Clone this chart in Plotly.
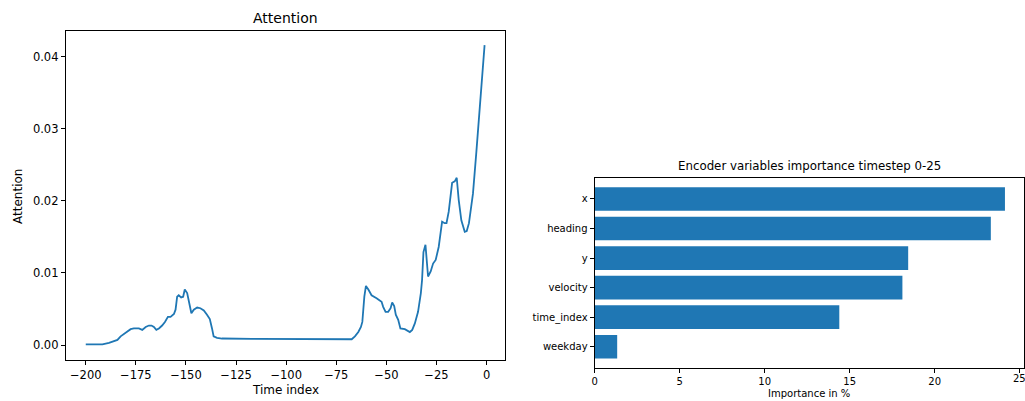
import plotly.graph_objects as go

# ---- Data: attention curve ----
time_index = [-200, -191.7, -188.4, -185.9, -184.2, -182.6, -180.9, -179.3, -177.6, -176, -173.5,
              -171.8, -170.1, -168.5, -167.2, -166, -164.8, -163.5, -161.9, -160.5, -159, -157.7,
              -156, -155.2, -154.4, -153.6, -152.4, -151.4, -150.6, -149.4, -148.3, -147.3, -146.1,
              -144.4, -142.8, -141.1, -139.5, -138.1, -137, -136.2, -134.5, -132, -117, -100.5,
              -67.3, -65.7, -64, -62.7, -62, -61, -60.2, -59, -57.4, -54.9, -52.4, -51.6, -50.4,
              -49.1, -47.9, -47.1, -46.1, -45.3, -44.1, -43, -40.8, -38.3, -37.1, -35.8, -34.2,
              -32.8, -32.2, -31.5, -30.5, -29.2, -27.9, -26.7, -25.4, -23.9, -22.2, -20.9, -20.0,
              -18.9, -17.2, -15.9, -14.9, -13.9, -12.6, -10.9, -9.9, -8.8, -6.8, -5.1, -3.5, -2.2, -1.0]
attention = [0.0001, 0.0001, 0.0003, 0.0005, 0.0007, 0.0012, 0.0015, 0.0018, 0.0022, 0.0023, 0.0023,
             0.0021, 0.0025, 0.0027, 0.0027, 0.0025, 0.0021, 0.0023, 0.0027, 0.0032, 0.0039, 0.0039,
             0.0043, 0.0049, 0.0067, 0.0069, 0.0066, 0.0067, 0.0077, 0.0072, 0.0055, 0.0044, 0.0049,
             0.0052, 0.0051, 0.0048, 0.0042, 0.0036, 0.0023, 0.0012, 0.0010, 0.0009, 0.00085, 0.0008,
             0.0008, 0.0012, 0.0018, 0.0025, 0.0032, 0.0067, 0.0082, 0.0077, 0.0069, 0.0065, 0.0060,
             0.0053, 0.0046, 0.0046, 0.0051, 0.0059, 0.0054, 0.0042, 0.0035, 0.0023, 0.0022, 0.0018,
             0.0021, 0.0030, 0.0046, 0.0072, 0.0090, 0.0129, 0.0139, 0.0095, 0.0102, 0.0113, 0.0118,
             0.0136, 0.0171, 0.0169, 0.0169, 0.0185, 0.0225, 0.0227, 0.0232, 0.0201, 0.0173, 0.0157,
             0.0158, 0.0169, 0.0210, 0.0268, 0.0326, 0.0377, 0.0416]

# ---- Data: encoder variable importance ----
variables = ["weekday", "time_index", "velocity", "y", "heading", "x"]
importance = [1.33, 14.39, 18.10, 18.44, 23.30, 24.13]

x_ticks_left = [-200, -175, -150, -125, -100, -75, -50, -25, 0]
y_ticks_left = [0.0, 0.01, 0.02, 0.03, 0.04]
x_ticks_right = [0, 5, 10, 15, 20, 25]

BLUE = "#1f77b4"
FONT = "DejaVu Sans"
W, H = 1025, 401

fig = go.Figure()
fig.add_trace(go.Scatter(x=time_index, y=attention, mode="lines",
                         line=dict(color=BLUE, width=1.8), xaxis="x", yaxis="y",
                         showlegend=False))
fig.add_trace(go.Bar(x=importance, y=variables, orientation="h", marker=dict(color=BLUE, line=dict(width=0)),
                     width=0.8, xaxis="x2", yaxis="y2", showlegend=False))

axis_common = dict(showline=True, mirror=True, linecolor="black", linewidth=1,
                   ticks="outside", ticklen=4, tickcolor="black", showgrid=False,
                   zeroline=False)

def px_x(p):
    return p / W

def px_y(p):
    return 1 - p / H

fig.update_layout(
    width=W, height=H,
    margin=dict(l=0, r=0, t=0, b=0),
    paper_bgcolor="white", plot_bgcolor="white",
    font=dict(family=FONT, color="black"),
    xaxis=dict(domain=[px_x(63), px_x(503)], range=[-209.95, 8.95], tickvals=x_ticks_left,
               tickfont=dict(size=11.5), anchor="y", **axis_common),
    yaxis=dict(domain=[px_y(360), px_y(31)], range=[-0.00208, 0.04356], tickvals=y_ticks_left,
               tickformat=".2f", tickfont=dict(size=11.5), anchor="x", **axis_common),
    xaxis2=dict(domain=[px_x(593.3), px_x(1024)], range=[0, 25.25], tickvals=x_ticks_right,
                tickfont=dict(size=10), anchor="y2", **axis_common),
    yaxis2=dict(domain=[px_y(368.3), px_y(178.3)], range=[-0.73, 5.7], type="category",
                categoryorder="array", categoryarray=variables,
                tickfont=dict(size=10), anchor="x2", **axis_common),
    bargap=0.2,
    annotations=[
        dict(text="Attention", x=px_x(283), y=px_y(18), xref="paper", yref="paper",
             showarrow=False, font=dict(size=14), xanchor="center", yanchor="middle"),
        dict(text="Time index", x=px_x(283), y=px_y(390), xref="paper", yref="paper",
             showarrow=False, font=dict(size=12), xanchor="center", yanchor="middle"),
        dict(text="Attention", x=px_x(15), y=px_y(196), xref="paper", yref="paper",
             showarrow=False, font=dict(size=12), textangle=-90, xanchor="center", yanchor="middle"),
        dict(text="Encoder variables importance timestep 0-25", x=px_x(808.6), y=px_y(166.5),
             xref="paper", yref="paper", showarrow=False, font=dict(size=11.8),
             xanchor="center", yanchor="middle"),
        dict(text="Importance in %", x=px_x(808.6), y=px_y(393), xref="paper", yref="paper",
             showarrow=False, font=dict(size=10), xanchor="center", yanchor="middle"),
        dict(text=str(x_ticks_right[-1]), x=x_ticks_right[-1], y=px_y(378.5), xref="x2", yref="paper",
             showarrow=False, font=dict(size=10), xanchor="center", yanchor="middle"),
    ],
)

fig.write_html("out.html", config={"displayModeBar": False},
               post_script="document.body.style.margin='0';document.body.style.overflow='hidden';")
